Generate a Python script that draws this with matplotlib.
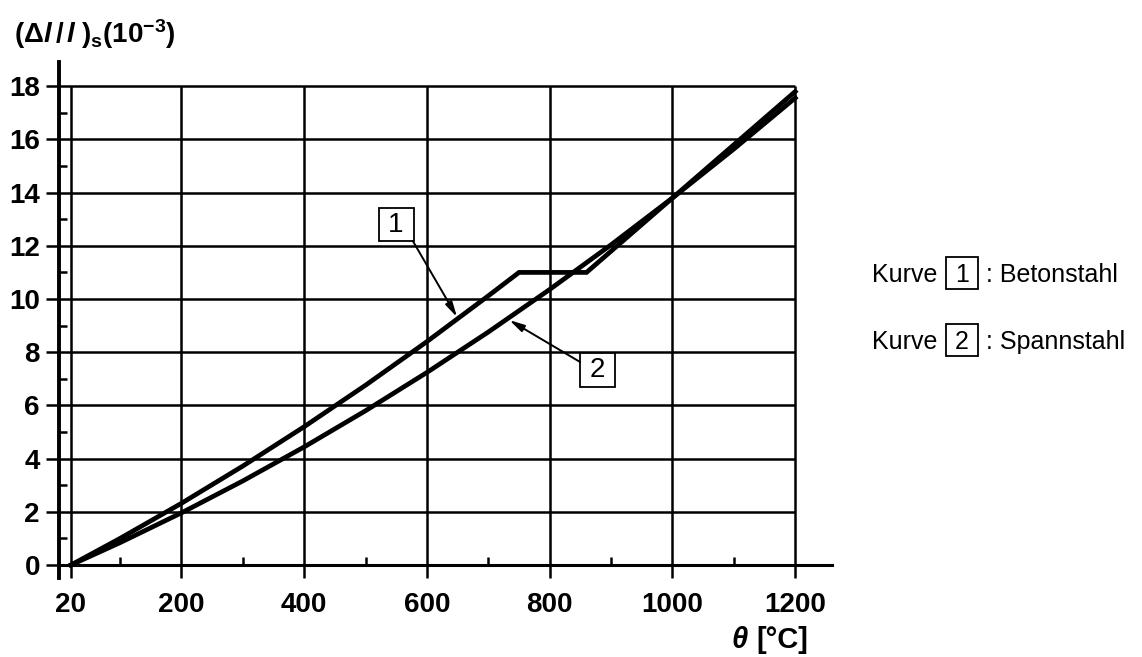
import matplotlib
matplotlib.use("Agg")
import matplotlib.pyplot as plt
from matplotlib.patches import Rectangle

plt.rcParams["font.family"] = ["Liberation Sans", "DejaVu Sans"]
plt.rcParams["mathtext.fontset"] = "custom"
plt.rcParams["mathtext.rm"] = "Liberation Sans:bold"
plt.rcParams["mathtext.it"] = "Liberation Sans:bold:italic"
plt.rcParams["mathtext.bf"] = "Liberation Sans:bold"

# Kurve 1: Betonstahl (Werte in 10^-3)
theta_1 = [20, 100, 200, 300, 400, 500, 600, 700, 750, 860, 900, 1000, 1100, 1200]
dl_1 = [0.0, 1.0, 2.32, 3.72, 5.2, 6.76, 8.4, 10.12, 11.0, 11.0, 11.8, 13.8, 15.8, 17.8]

# Kurve 2: Spannstahl
theta_2 = [20, 100, 200, 300, 400, 500, 600, 700, 800, 900, 1000, 1100, 1200]
dl_2 = [0.0, 0.84, 1.96, 3.16, 4.44, 5.8, 7.24, 8.76, 10.36, 12.04, 13.8, 15.64, 17.56]

x_ticks = [20, 200, 400, 600, 800, 1000, 1200]
x_minor = [100, 300, 500, 700, 900, 1100]
y_ticks = [0, 2, 4, 6, 8, 10, 12, 14, 16, 18]
y_minor = [1, 3, 5, 7, 9, 11, 13, 15, 17]

fig = plt.figure(figsize=(11.42, 6.57), dpi=100)
ax = fig.add_axes([0.0514, 0.1202, 0.6772, 0.7854])
ax.set_xlim(0, 1260)
ax.set_ylim(-0.49, 18.91)

# Raster nur im Bereich 20..1200 / 0..18
ax.hlines(y_ticks[1:], 0, x_ticks[-1], color="black", lw=1.8, zorder=1)
ax.vlines(x_ticks, 0, y_ticks[-1], color="black", lw=1.8, zorder=1)

ax.plot(theta_1, dl_1, color="black", lw=3.4, solid_joinstyle="miter", zorder=3)
ax.plot(theta_2, dl_2, color="black", lw=3.4, zorder=3)

for s in ["top", "right"]:
    ax.spines[s].set_visible(False)
ax.spines["bottom"].set_position(("data", 0))
ax.spines["left"].set_linewidth(2.8)
ax.spines["bottom"].set_linewidth(2.2)

ax.set_xticks(x_ticks)
ax.set_xticks(x_minor, minor=True)
ax.set_yticks(y_ticks)
ax.set_yticks(y_minor, minor=True)
ax.tick_params(axis="both", which="major", direction="out", length=9.5, width=1.8,
               labelsize=20, pad=4)
ax.tick_params(axis="x", which="major", pad=10)
ax.tick_params(axis="both", which="minor", direction="in", length=6, width=1.8)
for lbl in ax.get_xticklabels() + ax.get_yticklabels():
    lbl.set_fontweight("bold")

# Beschriftungen der Kurven (Kaestchen mit Pfeil)
arrow = dict(arrowstyle="-|>,head_length=0.9,head_width=0.22", color="black", lw=1.4,
             shrinkA=0, shrinkB=0)
labels = [("1", (549.7, 12.8), (577, 12.18), (649, 9.32)),
          ("2", (877.5, 7.33), (849.6, 7.63), (734, 9.21))]
for num, (cx, cy), tail, tip in labels:
    ax.add_patch(Rectangle((cx - 28.5, cy - 0.63), 57, 1.26, fc="white", ec="black",
                           lw=1.3, zorder=5))
    ax.text(cx, cy, num, fontsize=20, ha="center", va="center", zorder=6)
    ax.annotate("", xy=tip, xytext=tail, arrowprops=arrow, zorder=5)

# Achsentitel
fig.text(0.012, 0.948, r"$(\Delta \mathit{l}\,/\,\mathit{l}\;)_{\mathrm{s}}(10^{-3})$",
         fontsize=20, ha="left", va="center")
fig.text(0.64, 0.026, r"$\theta$", fontsize=21, ha="left", va="center")
fig.text(0.662, 0.026, "[°C]", fontsize=21, fontweight="bold", ha="left", va="center")

# Legende
legend_rows = [(272.5, "1", "Betonstahl"), (339.5, "2", "Spannstahl")]
for ypx, num, name in legend_rows:
    yy = 1 - ypx / 657
    fig.text(872 / 1142, yy, "Kurve", fontsize=18, ha="left", va="center_baseline")
    fig.patches.append(Rectangle((946 / 1142, 1 - (ypx + 16) / 657), 32 / 1142, 32 / 657,
                                 transform=fig.transFigure, fc="none", ec="black",
                                 lw=1.3, figure=fig))
    fig.text(962 / 1142, yy, num, fontsize=18, ha="center", va="center_baseline")
    fig.text(986 / 1142, yy, ": " + name, fontsize=18, ha="left", va="center_baseline")

fig.savefig("out.png", dpi=100)
